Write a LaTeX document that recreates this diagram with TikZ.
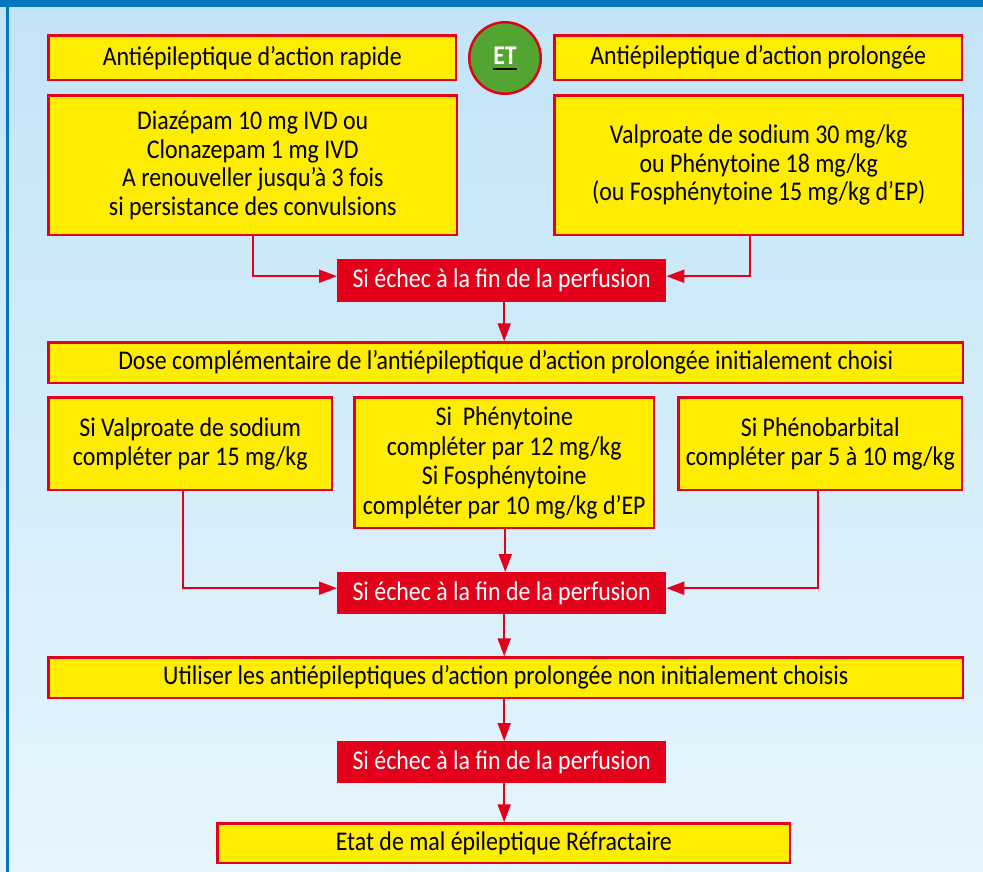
\documentclass[tikz,border=0pt]{standalone}
\usepackage{fontspec}
\setmainfont[FakeStretch=0.885]{Carlito}
\usetikzlibrary{arrows.meta,calc}
\definecolor{ybg}{HTML}{FFED00}
\definecolor{rd}{HTML}{E2001A}
\definecolor{bluebar}{HTML}{0077C0}
\definecolor{bgtop}{HTML}{C2E4F6}
\definecolor{bgbot}{HTML}{E6F5FC}
\definecolor{etgreen}{HTML}{52A530}
\begin{document}
\begin{tikzpicture}[x=1pt,y=-1pt,
  txt/.style={font=\fontsize{27}{28.5}\selectfont},
  ybox/.style={txt, draw=rd, line width=2.5pt, fill=ybg, inner sep=0pt, anchor=north west, align=center},
  rbox/.style={txt, fill=rd, text=white, inner sep=0pt, anchor=north west, minimum width=329pt},
  ln/.style={draw=rd, line width=2pt},
  arr/.style={ln, -{Triangle[length=18pt,width=13pt]}}]
\useasboundingbox (0,0) rectangle (983,872);
\fill[top color=bgtop, bottom color=bgbot] (0,0) rectangle (983,872);
\fill[bluebar] (0,0) rectangle (983,7);
\fill[bluebar] (6,0) rectangle (9,872);

\node[ybox, minimum width=407.5pt, minimum height=44.5pt] (A1) at (47.25,34.25) {Antiépileptique d’action rapide};
\node[ybox, minimum width=407.5pt, minimum height=44.5pt] (A2) at (553.25,34.25) {Antiépileptique d’action prolongée};
\node[circle, draw=rd, line width=2.5pt, fill=etgreen, minimum size=71.5pt, inner sep=0pt] (ET) at (505,58) {};
\node[text=white, font=\fontsize{27}{29}\selectfont\bfseries, inner sep=0pt] (ETt) at (505,56) {ET};
\draw[black, line width=2pt] ([yshift=-4pt]ETt.south west) -- ([yshift=-4pt]ETt.south east);

\node[ybox, minimum width=408.5pt, minimum height=139.5pt] (B1) at (47.25,94.25)
  {Diazépam 10 mg IVD ou\\Clonazepam 1 mg IVD\\A renouveller jusqu’à 3 fois\\si persistance des convulsions};
\node[ybox, minimum width=408.5pt, minimum height=139.5pt] (B2) at (553.25,94.25)
  {Valproate de sodium 30 mg/kg\\ou Phénytoine 18 mg/kg\\(ou Fosphénytoine 15 mg/kg d’EP)};

\node[rbox, minimum height=43pt] (R1) at (337,259) {Si échec à la fin de la perfusion};

\node[ybox, minimum width=914.5pt, minimum height=40.5pt] (C) at (47.25,341.25)
  {Dose complémentaire de l’antiépileptique d’action prolongée initialement choisi};

\node[ybox, minimum width=283.5pt, minimum height=92.5pt] (D1) at (47.25,396.25)
  {Si Valproate de sodium\\compléter par 15 mg/kg};
\node[ybox, minimum width=299.5pt, minimum height=130.5pt, font=\fontsize{27}{29.5}\selectfont] (D2) at (353.25,396.25)
  {Si~ Phénytoine\\compléter par 12 mg/kg\\Si Fosphénytoine\\compléter par 10 mg/kg d’EP};
\node[ybox, minimum width=283.5pt, minimum height=92.5pt] (D3) at (677.25,396.25)
  {Si Phénobarbital\\compléter par 5 à 10 mg/kg};

\node[rbox, minimum height=42pt] (R2) at (337,572) {Si échec à la fin de la perfusion};

\node[ybox, minimum width=914.5pt, minimum height=40.5pt] (E) at (47.25,656.25)
  {Utiliser les antiépileptiques d’action prolongée non initialement choisis};

\node[rbox, minimum height=42pt] (R3) at (337,741) {Si échec à la fin de la perfusion};

\node[ybox, minimum width=572.5pt, minimum height=39.5pt] (F) at (216.25,822.25)
  {Etat de mal épileptique Réfractaire};

\draw[arr] (B1.south) |- ([yshift=4.5pt]R1.west);
\draw[arr] ([xshift=-8.5pt]B2.south) |- ([yshift=4.5pt]R1.east);
\draw[arr] ([xshift=2.5pt]R1.south) -- ([xshift=2.5pt]R1.south |- C.north);

\draw[arr] ([xshift=-7pt]D1.south) |- ([yshift=5pt]R2.west);
\draw[arr] ([xshift=-2pt]D3.south) |- ([yshift=5pt]R2.east);
\draw[arr] ([xshift=1pt]D2.south) -- ([xshift=1pt]D2.south |- R2.north);

\draw[arr] ([xshift=2.5pt]R2.south) -- ([xshift=2.5pt]R2.south |- E.north);
\draw[arr] ([xshift=2.5pt]R2.south |- E.south) -- ([xshift=2.5pt]R3.north);
\draw[arr] ([xshift=2.5pt]R3.south) -- ([xshift=2.5pt]R3.south |- F.north);
\end{tikzpicture}
\end{document}
